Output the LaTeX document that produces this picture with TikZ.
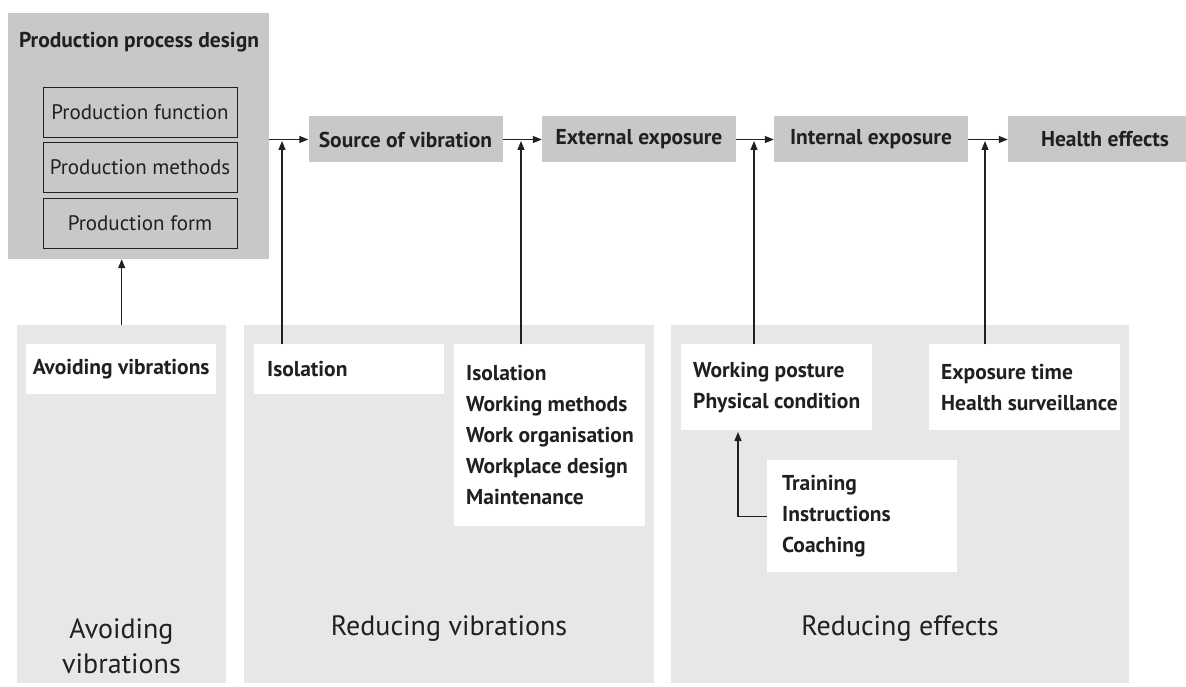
\documentclass[tikz,border=0pt]{standalone}
\usepackage{fontspec}
\setmainfont{PT Sans}
\usetikzlibrary{arrows.meta}
\definecolor{darkbox}{HTML}{C7C8CA}
\definecolor{lightbox}{HTML}{E6E7E8}
\definecolor{ink}{HTML}{231F20}
\pgfkeys{/pixel/.code=\tikzset{x=1pt,y=-1pt}}
\newcommand{\boldtext}{\bfseries\fontsize{21.5}{31}\selectfont}
\tikzset{
  stage/.style={fill=darkbox,minimum width=194pt,minimum height=46pt,inner sep=0pt,text=ink,font=\boldtext},
  part/.style={draw=ink,line width=0.9pt,fill=darkbox,minimum width=194pt,minimum height=50pt,inner sep=0pt,text=ink,font=\fontsize{21}{24}\selectfont},
  panel/.style={fill=lightbox,inner sep=0pt,anchor=north west,minimum height=358pt},
  measure/.style={fill=white,inner sep=0pt,anchor=north west},
  listtext/.style={inner sep=0pt,anchor=west,align=left,text=ink,font=\boldtext},
  goal/.style={text=ink,font=\fontsize{28}{35}\selectfont,align=center},
  flow/.style={draw=ink,line width=1.2pt,-{Triangle[length=9pt,width=7pt]}}
}

\begin{document}
\begin{tikzpicture}[/pixel]
    \clip (0,0) rectangle (1186,687);

    \node[stage,minimum width=261pt,minimum height=246pt] (design) at (138.5,136) {};
    \node[text=ink,font=\boldtext] (designtitle) at (139,42) {Production process design};
    \node[part] (func) at (140,112) {Production function};
    \node[part] (meth) at (140,167.5) {Production methods};
    \node[part] (form) at (140,223) {Production form};

    \node[stage] (source) at (405.5,139.5) {Source of vibration};
    \node[stage] (extexp) at (639,139.5) {External exposure};
    \node[stage] (intexp) at (871,139.5) {Internal exposure};
    \node[stage] (health) at (1105,139.5) {Health effects};

    \node[panel,minimum width=209pt] (avoid) at (17,325) {};
    \node[panel,minimum width=410pt] (reduce) at (244,325) {};
    \node[panel,minimum width=458pt] (effect) at (671,325) {};
    \node[goal] (avoidlabel) at (121.5,646) {Avoiding\\vibrations};
    \node[goal] (reducelabel) at (449,629) {Reducing vibrations};
    \node[goal] (effectlabel) at (900,629) {Reducing effects};

    \node[measure,minimum width=190pt,minimum height=50pt] (avoidbox) at (26,344) {};
    \node[measure,minimum width=190pt,minimum height=50pt] (isol) at (254,344) {};
    \node[measure,minimum width=191pt,minimum height=182pt] (measures) at (454,344) {};
    \node[measure,minimum width=191pt,minimum height=86pt] (posture) at (681,344) {};
    \node[measure,minimum width=191pt,minimum height=86pt] (exptime) at (929,344) {};
    \node[measure,minimum width=190pt,minimum height=112pt] (training) at (767,460) {};

    \node[listtext,anchor=center] (avoidtext) at (avoidbox) {Avoiding vibrations};
    \node[listtext] (isoltext) at ([xshift=13pt]isol.west) {Isolation};
    \node[listtext] (measurestext) at ([xshift=12pt]measures.west)
      {Isolation\\Working methods\\Work organisation\\Workplace design\\Maintenance};
    \node[listtext] (posturetext) at ([xshift=12pt]posture.west) {Working posture\\Physical condition};
    \node[listtext] (exptimetext) at ([xshift=12pt]exptime.west) {Exposure time\\Health surveillance};
    \node[listtext] (trainingtext) at ([xshift=15pt]training.west) {Training\\Instructions\\Coaching};

    \coordinate (in1) at (282,141);
    \coordinate (in2) at (521,141);
    \coordinate (in3) at (754,141);
    \coordinate (in4) at (985,141);
    \coordinate (in5) at (738,432);

    \draw[flow] (design.east |- source.west) -- (source.west);
    \foreach \a/\b in {source/extexp,extexp/intexp,intexp/health} {
      \draw[flow] (\a) -- (\b);
    }
    \foreach \m/\t in {isol/in1,measures/in2,posture/in3,exptime/in4} {
      \draw[flow] (\m.north -| \t) -- (\t);
    }
    \draw[flow] (avoid.north) -- (avoid.north |- design.south);
    \draw[flow] (training.west) -| (in5);
  \end{tikzpicture}
\end{document}
